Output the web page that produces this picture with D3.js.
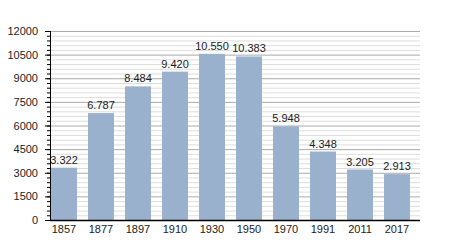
<!DOCTYPE html>
<html><head><meta charset="utf-8">
<script src="https://cdn.jsdelivr.net/npm/d3@7"></script>
<style>body{margin:0;background:#fff}svg{display:block}text{font-family:"Liberation Sans",Arial,sans-serif}</style>
</head><body><svg id="c" width="450" height="250"></svg>
<script>
const years = ["1857","1877","1897","1910","1930","1950","1970","1991","2011","2017"];
const population = [3322,6787,8484,9420,10550,10383,5948,4348,3205,2913];
const majorTicks = [0,1500,3000,4500,6000,7500,9000,10500,12000];

const svg = d3.select("#c");
const L=50,R=420,T=31,B=220;
const x = d3.scaleBand().domain(years).range([L,R]).paddingInner(0).paddingOuter(0);
const y = d3.scaleLinear().domain([0,12000]).range([B,T]);
const minor = d3.range(0,12001,300);
const bw = 26;
const bx = d => x(d) + 1;

svg.append("g").selectAll("line").data(minor.filter(v=>v%1500!==0)).join("line")
  .attr("x1",L).attr("x2",R).attr("y1",d=>y(d)+0.5).attr("y2",d=>y(d)+0.5)
  .attr("stroke","#dddddd").attr("stroke-width",1);
svg.append("g").selectAll("line").data(majorTicks.filter(v=>v>0)).join("line")
  .attr("x1",L).attr("x2",R).attr("y1",d=>y(d)+0.5).attr("y2",d=>y(d)+0.5)
  .attr("stroke","#aaaaaa").attr("stroke-width",1);

svg.append("g").selectAll("rect").data(years).join("rect")
  .attr("x",d=>bx(d)).attr("width",bw)
  .attr("y",(d,i)=>y(population[i])).attr("height",(d,i)=>B-y(population[i]))
  .attr("fill","#99b1cc");

const fmt = v => d3.format(",")(v).replace(/,/g,".");
svg.append("g").selectAll("text").data(years).join("text")
  .attr("x",d=>bx(d)+bw/2).attr("y",(d,i)=>y(population[i])-4)
  .attr("text-anchor","middle").attr("font-size",11).attr("fill","#222")
  .text((d,i)=>fmt(population[i]));

// y axis
const ya = svg.append("g");
ya.selectAll("line.mi").data(minor).join("line").attr("class","mi")
  .attr("x1",L-3).attr("x2",L).attr("y1",d=>y(d)+0.5).attr("y2",d=>y(d)+0.5).attr("stroke","#000");
ya.selectAll("line.ma").data(majorTicks).join("line").attr("class","ma")
  .attr("x1",L-5).attr("x2",L).attr("y1",d=>y(d)+0.5).attr("y2",d=>y(d)+0.5).attr("stroke","#000");
ya.selectAll("text").data(majorTicks).join("text")
  .attr("x",L-12).attr("y",d=>y(d)+4).attr("text-anchor","end").attr("font-size",11).attr("fill","#222")
  .text(d=>d);
svg.append("line").attr("x1",L+0.5).attr("x2",L+0.5).attr("y1",T).attr("y2",B+1).attr("stroke","#000");
svg.append("line").attr("x1",L).attr("x2",R).attr("y1",B+0.5).attr("y2",B+0.5).attr("stroke","#000").attr("stroke-width",1.5);

svg.append("g").selectAll("text").data(years).join("text")
  .attr("x",d=>bx(d)+bw/2).attr("y",B+13).attr("text-anchor","middle").attr("font-size",11).attr("fill","#222")
  .text(d=>d);
</script></body></html>
